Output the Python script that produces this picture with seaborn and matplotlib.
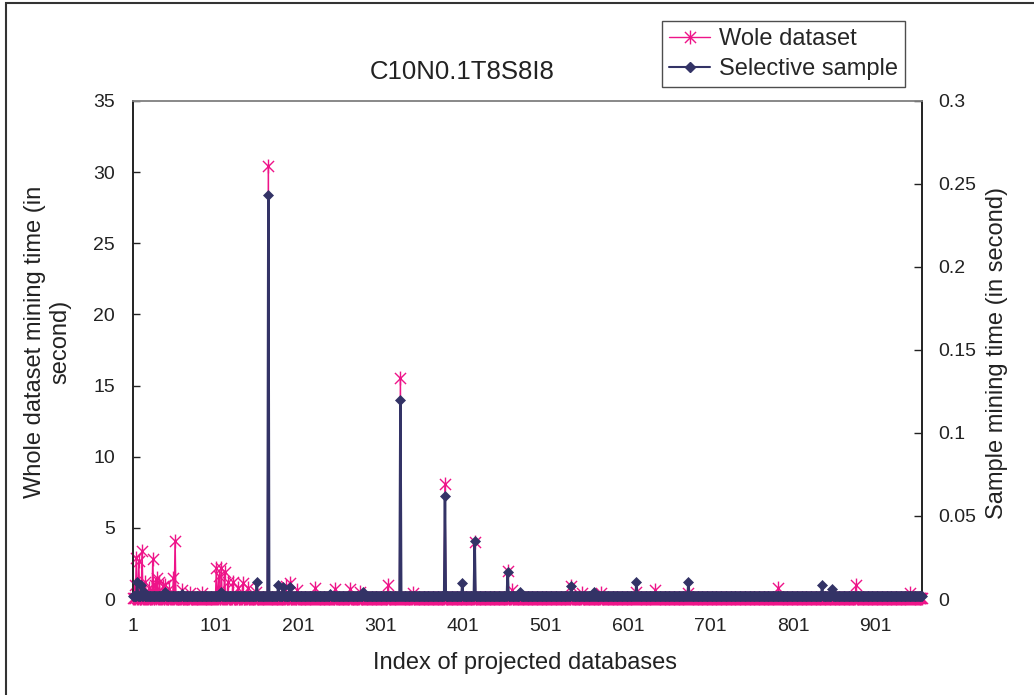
import numpy as np
import pandas as pd
import matplotlib
matplotlib.use("Agg")
import matplotlib.pyplot as plt
import seaborn as sns
from matplotlib.path import Path
from matplotlib.lines import Line2D
from matplotlib.patches import Rectangle
from matplotlib.ticker import FormatStrFormatter, FixedLocator

# ---------------- data ----------------
N_POINTS = 957                      # projected databases 1..957
WOLE_BASELINE = 0.1                 # typical whole-dataset time (s)
SAMPLE_BASELINE = 0.002             # typical sample time (s)

wole_idx = [3, 5, 8, 12, 16, 20, 25, 28, 30, 33, 37, 40, 45, 50, 52, 60, 70,
            85, 102, 105, 108, 112, 116, 122, 128, 134, 140, 150, 165, 186,
            191, 200, 222, 246, 264, 276, 310, 325, 340, 379, 415, 455, 460,
            532, 545, 568, 611, 634, 674, 783, 877, 943]
wole_val = [1.0, 2.9, 2.7, 3.4, 1.2, 0.8, 2.8, 1.0, 1.5, 1.2, 0.9, 1.0, 0.7,
            1.5, 4.1, 0.6, 0.4, 0.4, 2.2, 1.6, 2.2, 1.9, 1.2, 1.2, 0.8, 1.1,
            0.8, 0.5, 30.4, 0.9, 1.1, 0.6, 0.8, 0.7, 0.7, 0.5, 1.0, 15.5, 0.4,
            8.1, 4.0, 2.0, 0.6, 0.9, 0.4, 0.4, 0.5, 0.6, 0.4, 0.8, 1.0, 0.4]

sample_idx = [6, 11, 14, 40, 60, 108, 151, 165, 177, 183, 191, 240, 280, 325,
              379, 400, 415, 455, 470, 532, 560, 611, 674, 836, 848]
sample_val = [0.0103, 0.0084, 0.004, 0.004, 0.003, 0.004, 0.0103, 0.2436,
              0.0084, 0.007, 0.007, 0.003, 0.004, 0.12, 0.062, 0.0096, 0.035,
              0.0165, 0.004, 0.008, 0.004, 0.0103, 0.0103, 0.0084, 0.006]

x_ticks = [1, 101, 201, 301, 401, 501, 601, 701, 801, 901]
left_ticks = [0, 5, 10, 15, 20, 25, 30, 35]
right_ticks = [0, 0.05, 0.1, 0.15, 0.2, 0.25, 0.3]

index = np.arange(1, N_POINTS + 1)
wole = np.full(N_POINTS, WOLE_BASELINE)
wole[np.array(wole_idx) - 1] = wole_val
sample = np.full(N_POINTS, SAMPLE_BASELINE)
sample[np.array(sample_idx) - 1] = sample_val
df = pd.DataFrame({"idx": index, "wole": wole, "sample": sample})

# ---------------- style ----------------
sns.set_style("white")
plt.rcParams["font.family"] = ["Liberation Sans", "DejaVu Sans"]
FS_TICK = 14
FS_LAB = 17
FS_TITLE = 18.5
TXT = "#222222"
PINK = "#EE1489"
NAVY = "#333366"

star = Path([(-1, -1), (1, 1), (-1, 1), (1, -1), (0, -1.25), (0, 1.25)],
            [Path.MOVETO, Path.LINETO, Path.MOVETO, Path.LINETO,
             Path.MOVETO, Path.LINETO])

W, H = 1034, 695
fig = plt.figure(figsize=(W / 100, H / 100), dpi=100)
L, R, T, B = 133, 922, 101, 599
ax = fig.add_axes([L / W, 1 - B / H, (R - L) / W, (B - T) / H])
ax2 = ax.twinx()

sns.lineplot(data=df, x="idx", y="wole", ax=ax, color=PINK, linewidth=1.1,
             marker=star, markersize=10, markeredgecolor=PINK,
             markerfacecolor="none", markeredgewidth=1.0,
             estimator=None, sort=False, clip_on=False, zorder=3)
sns.lineplot(data=df, x="idx", y="sample", ax=ax2, color=NAVY, linewidth=1.8,
             marker="D", markersize=5.6, markeredgecolor=NAVY,
             markerfacecolor=NAVY, markeredgewidth=0.5,
             estimator=None, sort=False, clip_on=False, zorder=3)

ax.set_xlim(1, N_POINTS)
ax.set_ylim(0, 35)
ax2.set_ylim(0, 0.3)
ax.xaxis.set_major_locator(FixedLocator(x_ticks))
ax.set_yticks(left_ticks)
ax2.set_yticks(right_ticks)
ax2.yaxis.set_major_formatter(FormatStrFormatter("%g"))

ax.tick_params(axis="y", direction="in", length=5, width=1,
               labelsize=FS_TICK, pad=13, colors=TXT)
ax.tick_params(axis="x", direction="in", length=4, width=1,
               labelsize=FS_TICK, pad=14, colors=TXT)
ax2.tick_params(axis="y", direction="in", length=6, width=1,
                labelsize=FS_TICK, pad=11.5, colors=TXT)
ax.set_xlabel("")
ax.set_ylabel("")
ax2.set_ylabel("")

for a in (ax, ax2):
    for s in ("left", "right", "bottom"):
        a.spines[s].set_color(TXT)
        a.spines[s].set_linewidth(1.2)
    a.spines["top"].set_color("#888888")
    a.spines["top"].set_linewidth(1.2)
    a.grid(False)

fig.text(525 / W, 1 - 663 / H, "Index of projected databases",
         fontsize=FS_LAB, ha="center", va="center", color=TXT)
fig.text(48 / W, 1 - 342 / H, "Whole dataset mining time (in\nsecond)",
         fontsize=FS_LAB, ha="center", va="center", rotation=90, color=TXT,
         linespacing=1.2, multialignment="center")
fig.text(997 / W, 1 - 353 / H, "Sample mining time (in second)",
         fontsize=FS_LAB, ha="center", va="center", rotation=90, color=TXT)
fig.text(462 / W, 1 - 72 / H, "C10N0.1T8S8I8", fontsize=FS_TITLE,
         ha="center", va="center", color=TXT)

handles = [
    Line2D([], [], color=PINK, linewidth=1.0, marker=star, markersize=10,
           markeredgecolor=PINK, markerfacecolor="none"),
    Line2D([], [], color=NAVY, linewidth=1.5, marker="D", markersize=5.5,
           markeredgecolor=NAVY, markerfacecolor=NAVY),
]
leg = fig.legend(handles, ["Wole dataset", "Selective sample"],
                 loc="upper left", bbox_to_anchor=(662 / W, 1 - 21 / H),
                 fontsize=FS_LAB, frameon=True, fancybox=False,
                 handlelength=1.75, handletextpad=0.35, borderpad=0.3,
                 labelspacing=0.35, borderaxespad=0)
leg.get_frame().set_edgecolor(TXT)
leg.get_frame().set_linewidth(1.0)

# outer chart border (extends beyond the right/bottom image edge)
fig.patches.append(Rectangle((6 / W, -0.2), 1.2, 1.2 - 3 / H,
                             transform=fig.transFigure, fill=False,
                             edgecolor="#333333", linewidth=1.5))

fig.savefig("out.png", dpi=100)
